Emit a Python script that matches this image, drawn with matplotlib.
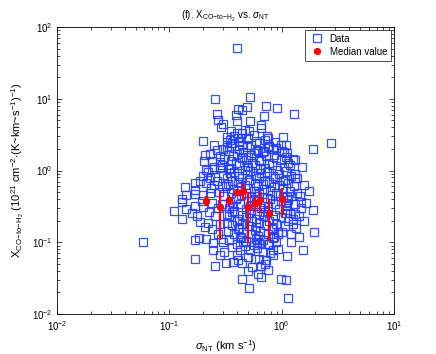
import numpy as np
import matplotlib
matplotlib.use("Agg")
import matplotlib.pyplot as plt
from matplotlib.ticker import LogLocator, NullFormatter

plt.rcParams['font.family'] = ['Liberation Sans', 'DejaVu Sans']
plt.rcParams['mathtext.fontset'] = 'custom'
plt.rcParams['mathtext.rm'] = 'Liberation Sans'
plt.rcParams['mathtext.it'] = 'Liberation Sans:italic'
plt.rcParams['mathtext.bf'] = 'Liberation Sans:bold'
plt.rcParams['mathtext.sf'] = 'Liberation Sans'

# ---- Data (log10 sigma_NT [km/s], log10 X_CO-to-H2 [1e21 cm^-2 (K km/s)^-1]) ----
data_log_pairs = [
    (-0.40, 1.71), (-0.59, 0.99), (-0.58, 0.79), (-0.57, 0.70), (-0.52, 0.65),
    (-0.54, 0.61), (-0.70, 0.41), (-0.60, 0.36), (-0.49, 0.47), (-0.49, 0.40),
    (-0.49, 0.33), (-0.52, 0.30), (-0.64, 0.23), (-0.68, 0.22), (-0.69, 0.13),
    (-0.62, 0.13), (-0.55, 0.20), (-0.67, 0.01), (-0.62, 0.02), (-0.55, 0.03),
    (-0.70, -0.08), (-0.64, -0.10), (-0.59, -0.09), (-0.52, -0.06), (-0.77, -0.17),
    (-0.73, -0.15), (-0.67, -0.17), (-0.60, -0.20), (-0.53, -0.22), (-0.86, -0.23),
    (-0.85, -0.34), (-0.77, -0.27), (-0.77, -0.33), (-0.89, -0.40), (-0.70, -0.34),
    (-0.64, -0.31),
    (-0.28, 1.02), (-0.39, 0.86), (-0.35, 0.84), (-0.31, 0.88), (-0.14, 0.90),
    (-0.04, 0.87), (0.11, 0.79), (-0.41, 0.77), (-0.16, 0.76), (-0.40, 0.69),
    (-0.28, 0.69), (-0.18, 0.63), (-0.18, 0.59), (-0.40, 0.52), (-0.33, 0.56),
    (-0.29, 0.55), (-0.35, 0.52), (0.01, 0.47), (-0.13, 0.48), (-0.12, 0.45),
    (-0.23, 0.41), (0.44, 0.38), (0.28, 0.30), (-0.11, 0.34), (-0.01, 0.36),
    (0.04, 0.36), (-0.06, 0.40), (-0.36, 0.45), (-0.39, 0.45), (-0.44, 0.38),
    (-0.35, 0.36), (-0.21, 0.27), (-0.17, 0.26), (-0.27, 0.22), (0.00, 0.27),
    (0.05, 0.24), (0.06, 0.10), (0.12, -0.05), (0.01, -0.15), (0.05, -0.37),
    (-1.23, -1.00), (-0.89, -0.44), (-0.85, -0.54), (-0.96, -0.56), (-0.89, -0.68),
    (-0.80, -0.59), (-0.77, -0.49), (-0.75, -0.63), (-0.70, -0.51), (-0.73, -0.72),
    (-0.68, -0.79), (-0.66, -0.73), (-0.77, -0.97), (-0.74, -0.94), (-0.67, -0.95),
    (-0.77, -1.23), (-0.59, -1.33), (-0.50, -1.29), (-0.61, -1.11), (-0.55, -1.18),
    (-0.51, -1.14), (-0.61, -1.01), (-0.52, -1.00),
    (0.28, -0.55), (0.29, -0.86), (0.19, -1.11), (0.13, -0.80), (0.08, -0.89),
    (0.07, -0.59), (0.12, -0.61), (0.15, -0.63), (0.12, -0.47), (0.04, -0.45),
    (0.05, -1.19), (-0.03, -1.09), (-0.01, -1.51), (0.04, -1.53), (0.06, -1.78),
    (-0.29, -1.64), (-0.35, -1.51), (-0.21, -1.44), (-0.18, -1.49), (-0.12, -1.39),
    (-0.30, -1.40), (-0.26, -1.34), (-0.18, -1.33), (-0.43, -1.28), (-0.39, -1.25),
    (-0.35, -1.29), (-0.24, -1.23), (-0.20, -1.23), (-0.14, -1.25), (-0.08, -1.18),
    (-0.08, -1.11), (-0.17, -1.14), (-0.03, -0.89), (0.00, -0.86), (-0.28, -1.11),
    (-0.22, -1.08), (-0.37, -1.11), (-0.44, -1.07),
    # dense core
    (-0.45, 0.34), (-0.38, 0.30), (-0.31, 0.33), (-0.22, 0.29), (-0.12, 0.33), (-0.05, 0.31),
    (-0.47, 0.27), (-0.40, 0.23), (-0.34, 0.26), (-0.25, 0.24), (-0.16, 0.27), (-0.07, 0.22), (0.02, 0.26),
    (-0.51, 0.16), (-0.43, 0.20), (-0.35, 0.17), (-0.30, 0.19), (-0.20, 0.15), (-0.14, 0.20),
    (-0.05, 0.17), (0.04, 0.19), (0.10, 0.16),
    (-0.45, 0.13), (-0.41, 0.10), (-0.32, 0.14), (-0.26, 0.11), (-0.18, 0.13), (-0.11, 0.10), (-0.01, 0.14),
    (-0.53, 0.07), (-0.45, 0.04), (-0.38, 0.08), (-0.30, 0.05), (-0.24, 0.07), (-0.15, 0.04),
    (-0.09, 0.08), (0.02, 0.05), (0.07, 0.07),
    (-0.47, 0.02), (-0.42, -0.02), (-0.33, 0.01), (-0.28, -0.01), (-0.19, 0.02), (-0.13, -0.02),
    (-0.04, 0.01), (0.04, -0.01),
    (-0.46, -0.04), (-0.38, -0.08), (-0.31, -0.05), (-0.23, -0.07), (-0.18, -0.04), (-0.08, -0.08),
    (-0.02, -0.05), (0.08, -0.07),
    (-0.49, -0.10), (-0.44, -0.14), (-0.35, -0.11), (-0.29, -0.13), (-0.20, -0.10), (-0.15, -0.14),
    (-0.06, -0.11), (0.03, -0.13), (0.12, -0.10),
    (-0.48, -0.19), (-0.39, -0.16), (-0.33, -0.20), (-0.24, -0.17), (-0.17, -0.19), (-0.11, -0.16),
    (-0.02, -0.20), (0.06, -0.17),
    (-0.50, -0.22), (-0.43, -0.26), (-0.36, -0.23), (-0.30, -0.25), (-0.21, -0.22), (-0.16, -0.26),
    (-0.07, -0.23), (0.01, -0.25), (0.11, -0.22),
    (-0.45, -0.31), (-0.40, -0.28), (-0.32, -0.32), (-0.25, -0.29), (-0.20, -0.31), (-0.10, -0.28),
    (-0.05, -0.32), (0.07, -0.29), (0.14, -0.31),
    (-0.51, -0.35), (-0.41, -0.38), (-0.36, -0.34), (-0.27, -0.37), (-0.22, -0.35), (-0.13, -0.38),
    (-0.09, -0.34), (0.01, -0.37), (0.08, -0.35),
    (-0.46, -0.44), (-0.41, -0.40), (-0.30, -0.43), (-0.25, -0.41), (-0.16, -0.44), (-0.10, -0.40),
    (-0.01, -0.43), (0.06, -0.41), (0.17, -0.44),
    (-0.53, -0.47), (-0.43, -0.49), (-0.37, -0.46), (-0.28, -0.50), (-0.23, -0.47), (-0.12, -0.49),
    (-0.06, -0.46), (0.04, -0.50),
    (-0.47, -0.52), (-0.42, -0.56), (-0.32, -0.53), (-0.27, -0.55), (-0.18, -0.52), (-0.12, -0.56),
    (-0.02, -0.53), (0.05, -0.55), (0.17, -0.52),
    (-0.49, -0.61), (-0.44, -0.58), (-0.35, -0.62), (-0.29, -0.59), (-0.20, -0.61), (-0.15, -0.58),
    (-0.06, -0.62), (0.03, -0.59),
    (-0.47, -0.64), (-0.38, -0.68), (-0.32, -0.65), (-0.23, -0.67), (-0.17, -0.64), (-0.08, -0.68),
    (-0.01, -0.65), (0.10, -0.67),
    (-0.49, -0.73), (-0.40, -0.70), (-0.35, -0.74), (-0.26, -0.71), (-0.20, -0.73), (-0.11, -0.70),
    (-0.05, -0.74), (0.06, -0.71),
    (-0.44, -0.76), (-0.38, -0.80), (-0.29, -0.77), (-0.23, -0.79), (-0.14, -0.76), (-0.08, -0.80), (0.03, -0.77),
    (-0.48, -0.85), (-0.39, -0.82), (-0.34, -0.86), (-0.24, -0.83), (-0.19, -0.85), (-0.09, -0.82), (-0.03, -0.86),
    (-0.42, -0.88), (-0.36, -0.92), (-0.27, -0.89), (-0.21, -0.91), (-0.12, -0.88), (-0.07, -0.92),
    (-0.47, -0.97), (-0.37, -0.94), (-0.32, -0.98), (-0.23, -0.95), (-0.17, -0.97), (-0.08, -0.94),
    (-0.40, -1.03), (-0.34, -1.00), (-0.25, -1.04), (-0.20, -1.01), (-0.11, -1.03),
    # flanks
    (-0.60, 0.05), (-0.66, -0.02), (-0.58, -0.14), (-0.63, -0.25), (-0.56, -0.30), (-0.71, -0.42),
    (-0.62, -0.45), (-0.57, -0.52), (-0.65, -0.58), (-0.59, -0.64), (-0.55, -0.74), (-0.62, -0.82),
    (-0.57, -0.88), (-0.54, -0.95), (-0.58, 0.28), (-0.55, 0.12),
    (0.12, 0.15), (0.18, 0.05), (0.14, -0.10), (0.20, -0.20), (0.16, -0.35), (0.24, -0.28),
    (0.22, -0.45), (0.20, -0.70), (0.10, -0.75), (0.15, -0.92), (0.08, -1.00),
    (-0.45, 0.55), (-0.42, 0.48), (-0.30, 0.45), (-0.25, 0.50), (-0.20, 0.38), (-0.27, 0.36),
    (-0.38, 0.40), (-0.15, 0.42), (-0.08, 0.30), (-0.46, 0.42),
    (-0.33, -1.05), (-0.22, -1.00), (-0.12, -1.03), (-0.40, -1.18), (-0.30, -1.20), (-0.15, -1.30),
    (-0.05, -1.00), (-0.10, -1.15),
]
log_sigma_nt = [p[0] for p in data_log_pairs]
log_x_co = [p[1] for p in data_log_pairs]

# Median values with ranges
median_sigma = [0.211, 0.281, 0.342, 0.404, 0.453, 0.502, 0.575, 0.645, 0.767, 1.00]
median_x = [0.379, 0.313, 0.388, 0.497, 0.522, 0.307, 0.356, 0.388, 0.253, 0.401]
median_low = [0.320, 0.107, 0.320, 0.470, 0.376, 0.0977, 0.267, 0.256, 0.105, 0.227]
median_high = [0.441, 0.522, 0.456, 0.525, 0.670, 0.506, 0.431, 0.518, 0.401, 0.565]

sigma = 10.0 ** np.array(log_sigma_nt)
xco = 10.0 ** np.array(log_x_co)
msig = np.array(median_sigma)
mx = np.array(median_x)
yerr = np.vstack([mx - np.array(median_low), np.array(median_high) - mx])

fig = plt.figure(figsize=(4.36, 3.54), dpi=100)
ax = fig.add_axes([57/436, 40/354, 337/436, 287/354])

ax.plot(sigma, xco, linestyle='none', marker='s', markersize=5.2,
        markerfacecolor='none', markeredgecolor='#1f3dff', markeredgewidth=0.9,
        label='Data', alpha=0.9)
ax.errorbar(msig, mx, yerr=yerr, fmt='none', ecolor='red',
            elinewidth=1.6, capsize=0, zorder=5)
ax.plot(msig, mx, linestyle='none', marker='o', markersize=4.2, color='red',
        label='Median value', zorder=6)

ax.set_xscale('log')
ax.set_yscale('log')
ax.set_xlim(1e-2, 1e1)
ax.set_ylim(1e-2, 1e2)

ax.xaxis.set_major_locator(LogLocator(base=10, numticks=10))
ax.yaxis.set_major_locator(LogLocator(base=10, numticks=10))
ax.xaxis.set_minor_locator(LogLocator(base=10, subs=np.arange(2, 10), numticks=20))
ax.yaxis.set_minor_locator(LogLocator(base=10, subs=np.arange(2, 10), numticks=20))
ax.xaxis.set_minor_formatter(NullFormatter())
ax.yaxis.set_minor_formatter(NullFormatter())
ax.tick_params(which='both', direction='in', top=True, right=True, labelsize=7,
               width=0.5, colors='black')
ax.tick_params(which='major', length=3.5)
ax.tick_params(which='minor', length=2)
for s in ax.spines.values():
    s.set_linewidth(0.6)

ax.set_xlabel(r'$\sigma_{\rm NT}$ (km s$^{-1}$)', fontsize=8, labelpad=4)
ax.set_ylabel(r'X$_{\rm CO\!-\!to\!-\!H_2}$ (10$^{21}$ cm$^{-2}$$\cdot$(K~km~s$^{-1}$)$^{-1}$)',
              fontsize=8, labelpad=4)
ax.set_title(r'(f). X$_{\rm CO\!-\!to\!-\!H_2}$ vs. $\sigma_{\rm NT}$', fontsize=7, pad=6)

leg = ax.legend(loc='upper right', fontsize=7, frameon=True, fancybox=False,
                edgecolor='black', borderpad=0.4, handletextpad=0.6, borderaxespad=0.3,
                labelspacing=0.3, handlelength=1.5)
leg.get_frame().set_linewidth(0.6)

fig.savefig('out.png', dpi=100, facecolor='white')
